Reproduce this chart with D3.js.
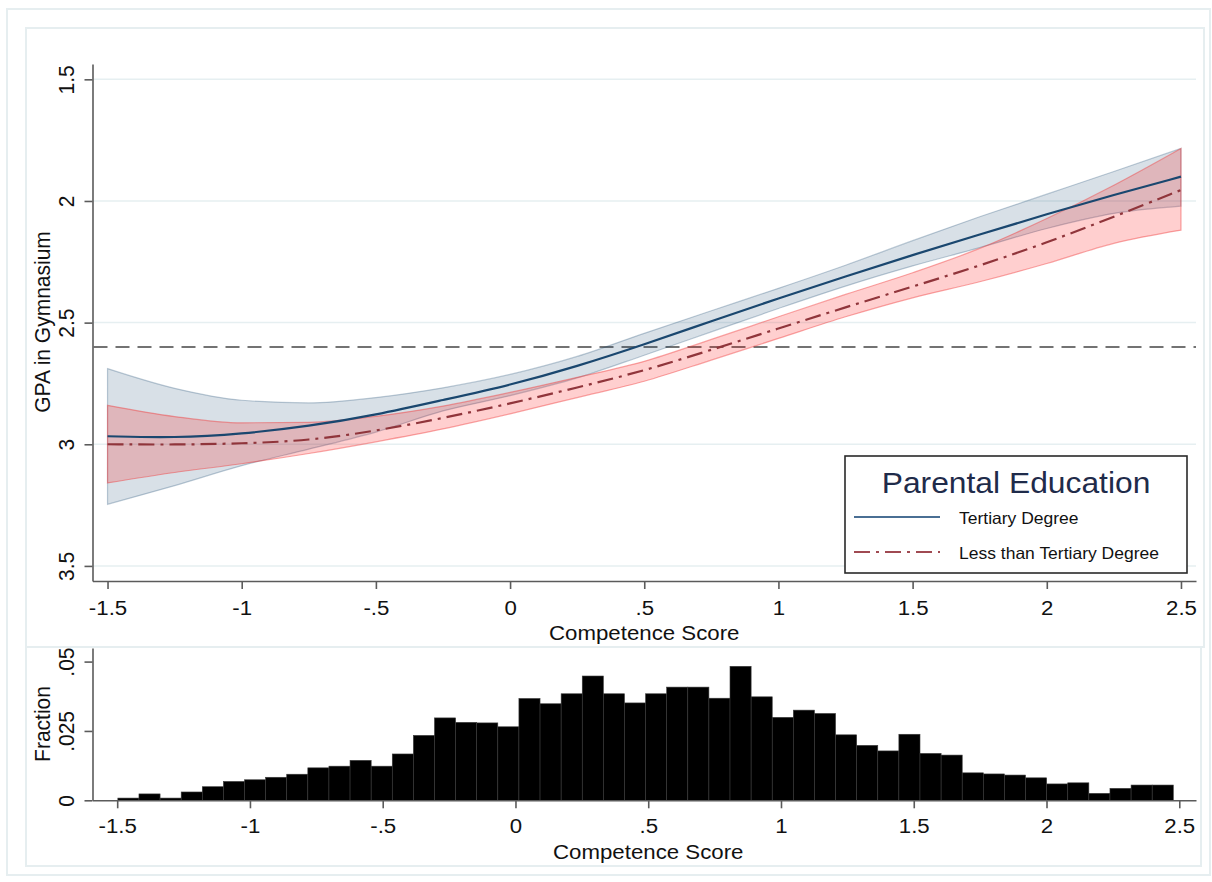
<!DOCTYPE html>
<html><head><meta charset="utf-8">
<script src="https://cdn.jsdelivr.net/npm/d3@7"></script>
<style>
body{margin:0;background:#fff}
svg{display:block}
text{font-family:"Liberation Sans",Arial,Helvetica,sans-serif}
</style>
</head><body>
<svg id="c" width="1212" height="882"></svg>
<script>
// ---------- DATA ----------
const xGrid     = [-1.5,-1.25,-1,-0.75,-0.5,-0.25,0,0.25,0.5,0.75,1,1.25,1.5,1.75,2,2.25,2.5];
const tertMean  = [2.967,2.974,2.958,2.926,2.880,2.818,2.757,2.680,2.590,2.494,2.400,2.310,2.222,2.138,2.054,1.975,1.900];
const tertUpper = [2.689,2.770,2.819,2.830,2.808,2.768,2.713,2.639,2.544,2.451,2.359,2.264,2.163,2.065,1.972,1.879,1.784];
const tertLower = [3.247,3.170,3.088,3.020,2.950,2.863,2.800,2.727,2.634,2.538,2.442,2.350,2.267,2.192,2.113,2.051,2.021];
const lessMean  = [3.000,3.002,2.997,2.985,2.945,2.893,2.833,2.767,2.698,2.612,2.524,2.437,2.352,2.266,2.172,2.065,1.955];
const lessUpper = [2.840,2.886,2.912,2.910,2.885,2.843,2.787,2.725,2.659,2.569,2.476,2.384,2.295,2.195,2.072,1.935,1.784];
const lessLower = [3.159,3.116,3.080,3.038,2.990,2.937,2.875,2.808,2.741,2.654,2.565,2.476,2.398,2.332,2.257,2.174,2.120];
const refGPA = 2.6;

const histStart = -1.4975;
const histWidth = 0.0795;
const histFrac = [0.0008,0.0023,0.0008,0.0030,0.0049,0.0068,0.0074,0.0083,0.0094,0.0117,
                  0.0123,0.0144,0.0123,0.0167,0.0234,0.0297,0.0281,0.0279,0.0265,0.0367,
                  0.0348,0.0384,0.0448,0.0384,0.0351,0.0384,0.0408,0.0408,0.0368,0.0483,
                  0.0373,0.0299,0.0325,0.0313,0.0236,0.0198,0.0178,0.0238,0.0169,0.0163,
                  0.0099,0.0095,0.0091,0.0081,0.0059,0.0063,0.0025,0.0043,0.0055,0.0055];

const xTickVals   = [-1.5,-1,-0.5,0,0.5,1,1.5,2,2.5];
const xTickLabels = ["-1.5","-1","-.5","0",".5","1","1.5","2","2.5"];
const yTickVals   = [1.5,2,2.5,3,3.5];
const yTickLabels = ["1.5","2","2.5","3","3.5"];
const hTickVals   = [0,0.025,0.05];
const hTickLabels = ["0",".025",".05"];
const seriesNames = ["Tertiary Degree","Less than Tertiary Degree"];
const legendTitle = "Parental Education";
const xTitle = "Competence Score";
const yTitle = "GPA in Gymnasium";
const hTitle = "Fraction";

// ---------- STYLE ----------
const SX = 1.06;                 // horizontal text stretch
const axisCol = "#5b5b5b";
const gridCol = "#e6eff1";
const frameCol = "#e6eef0";
const blueLine = "#1a476f", redLine = "#90353b";

const svg = d3.select("#c");
svg.append("rect").attr("width",1212).attr("height",882).attr("fill","#fff");

// frames
svg.append("rect").attr("x",7).attr("y",9).attr("width",1203).attr("height",866)
  .attr("fill","none").attr("stroke",frameCol).attr("stroke-width",2);
svg.append("rect").attr("x",26).attr("y",28).attr("width",1178).attr("height",619)
  .attr("fill","none").attr("stroke",frameCol).attr("stroke-width",2);
svg.append("rect").attr("x",26).attr("y",647).attr("width",1175).attr("height",219)
  .attr("fill","none").attr("stroke",frameCol).attr("stroke-width",2);

// ---------- SCALES ----------
const xTop = d3.scaleLinear().domain([-1.556,2.556]).range([92.5,1196]);
const yTop = d3.scaleLinear().domain([1.437,3.562]).range([64,581]);
const xHist = d3.scaleLinear().domain([-1.593,2.563]).range([92.5,1196]);
const yHist = d3.scaleLinear().domain([0,0.0549]).range([800.3,648]);

function txt(g, s, x, y, size, opts={}) {
  return g.append("text").text(s)
    .attr("transform", `translate(${x},${y}) scale(${SX},1)` + (opts.rot ? ` rotate(${opts.rot})` : ""))
    .attr("font-size", size)
    .attr("text-anchor", opts.anchor || "middle")
    .attr("fill", opts.fill || "#111");
}

function styleAxis(g) {
  g.select(".domain").attr("stroke", axisCol).attr("stroke-width", 1.6);
  g.selectAll(".tick line").attr("stroke", axisCol).attr("stroke-width", 1.6);
  g.attr("font-family", null).attr("font-size", null);
}

// ---------- TOP PANEL ----------
const topG = svg.append("g");

topG.selectAll("line.grid").data(yTickVals).join("line")
  .attr("x1", xTop.range()[0]+1).attr("x2", xTop.range()[1])
  .attr("y1", d=>yTop(d)).attr("y2", d=>yTop(d))
  .attr("stroke", gridCol).attr("stroke-width", 1.5);

topG.append("line")
  .attr("x1", xTop.range()[0]+1).attr("x2", xTop.range()[1])
  .attr("y1", yTop(refGPA)).attr("y2", yTop(refGPA))
  .attr("stroke", "#737373").attr("stroke-width", 2).attr("stroke-dasharray", "14,8");

const pts = xGrid.map((x,i)=>({x, tm:tertMean[i], tu:tertUpper[i], tl:tertLower[i], lm:lessMean[i], lu:lessUpper[i], ll:lessLower[i]}));
const areaT = d3.area().x(d=>xTop(d.x)).y0(d=>yTop(d.tl)).y1(d=>yTop(d.tu)).curve(d3.curveMonotoneX);
const areaL = d3.area().x(d=>xTop(d.x)).y0(d=>yTop(d.ll)).y1(d=>yTop(d.lu)).curve(d3.curveMonotoneX);
topG.append("path").datum(pts).attr("d", areaT)
  .attr("fill","rgba(26,71,111,0.17)").attr("stroke","rgba(26,71,111,0.28)").attr("stroke-width",1.2);
topG.append("path").datum(pts).attr("d", areaL)
  .attr("fill","rgba(255,0,0,0.19)").attr("stroke","rgba(240,60,60,0.45)").attr("stroke-width",1.2);

const lineT = d3.line().x(d=>xTop(d.x)).y(d=>yTop(d.tm)).curve(d3.curveBasis);
const lineL = d3.line().x(d=>xTop(d.x)).y(d=>yTop(d.lm)).curve(d3.curveBasis);
topG.append("path").datum(pts).attr("d", lineT).attr("fill","none")
  .attr("stroke", blueLine).attr("stroke-width", 2.2);
topG.append("path").datum(pts).attr("d", lineL).attr("fill","none")
  .attr("stroke", redLine).attr("stroke-width", 2.2).attr("stroke-dasharray","16,6,3,6");

// axes
const gxTop = topG.append("g").attr("transform", `translate(0,${yTop.range()[1]})`)
  .call(d3.axisBottom(xTop).tickValues(xTickVals).tickFormat((d,i)=>xTickLabels[i]).tickSize(8).tickSizeOuter(0));
styleAxis(gxTop);
gxTop.selectAll(".tick text").attr("y", null).attr("dy", null)
  .attr("transform", `translate(0,34) scale(${SX},1)`).attr("font-size", 21).attr("fill","#111");

const gyTop = topG.append("g").attr("transform", `translate(${xTop.range()[0]},0)`)
  .call(d3.axisLeft(yTop).tickValues(yTickVals).tickFormat((d,i)=>yTickLabels[i]).tickSize(8).tickSizeOuter(0));
styleAxis(gyTop);
gyTop.selectAll(".tick text").attr("x", null).attr("dy", null)
  .attr("text-anchor","middle")
  .attr("transform", `translate(-18.5,0) scale(${SX},1) rotate(-90)`).attr("font-size", 21).attr("fill","#111");

txt(topG, xTitle, (xTop(-1.5)+xTop(2.5))/2, 640, 21);
txt(topG, yTitle, 50, 322, 21, {rot:-90});

// legend
const lg = topG.append("g");
lg.append("rect").attr("x",845).attr("y",456).attr("width",342).attr("height",117)
  .attr("fill","#fff").attr("stroke","#2a2a2a").attr("stroke-width",1.6);
txt(lg, legendTitle, 1016, 493, 30, {fill:"#1f2b4a"});
const legItems = [{name:seriesNames[0], dash:null},{name:seriesNames[1], dash:"16,6,3,6"}];
legItems.forEach((it,i)=>{
  const y = 517 + i*35;
  lg.append("line").attr("x1",854).attr("x2",940).attr("y1",y).attr("y2",y)
    .attr("stroke", i===0 ? "#4a6f94" : "#a04a52").attr("stroke-width",2.2)
    .attr("stroke-dasharray", it.dash);
  txt(lg, it.name, 959, y+6.5, 16.5, {anchor:"start"});
});

// ---------- HISTOGRAM PANEL ----------
const hist = svg.append("g");
const bins = histFrac.map((f,i)=>({x0: histStart + i*histWidth, x1: histStart + (i+1)*histWidth, f}));
hist.selectAll("rect.bar").data(bins).join("rect")
  .attr("x", d=>xHist(d.x0)).attr("width", d=>xHist(d.x1)-xHist(d.x0))
  .attr("y", d=>yHist(d.f)).attr("height", d=>yHist(0)-yHist(d.f))
  .attr("fill","#000").attr("stroke","#3a3a3a").attr("stroke-width",0.6);

const gxH = hist.append("g").attr("transform", `translate(0,${yHist.range()[0]})`)
  .call(d3.axisBottom(xHist).tickValues(xTickVals).tickFormat((d,i)=>xTickLabels[i]).tickSize(8).tickSizeOuter(0));
styleAxis(gxH);
gxH.selectAll(".tick text").attr("y", null).attr("dy", null)
  .attr("transform", `translate(0,33) scale(${SX},1)`).attr("font-size", 21).attr("fill","#111");

const gyH = hist.append("g").attr("transform", `translate(${xHist.range()[0]},0)`)
  .call(d3.axisLeft(yHist).tickValues(hTickVals).tickFormat((d,i)=>hTickLabels[i]).tickSize(8).tickSizeOuter(0));
styleAxis(gyH);
gyH.selectAll(".tick text").attr("x", null).attr("dy", null)
  .attr("text-anchor","middle")
  .attr("transform", `translate(-18.5,0) scale(${SX},1) rotate(-90)`).attr("font-size", 21).attr("fill","#111");

txt(hist, xTitle, (xHist(-1.5)+xHist(2.5))/2, 859, 21);
txt(hist, hTitle, 50, 724, 21, {rot:-90});
</script>
</body></html>
